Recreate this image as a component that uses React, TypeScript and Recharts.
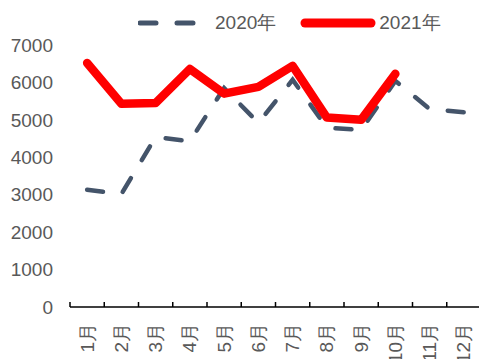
import React from "react";
import { LineChart, Line, XAxis, YAxis, Legend } from "recharts";

const months = ["1月", "2月", "3月", "4月", "5月", "6月", "7月", "8月", "9月", "10月", "11月", "12月"];
const sales2020 = [3130, 3020, 4540, 4430, 5850, 4920, 6070, 4790, 4730, 6040, 5290, 5200];
const sales2021: (number | null)[] = [6520, 5430, 5450, 6360, 5700, 5880, 6440, 5060, 5000, 6230, null, null];
const yTicks = [0, 1000, 2000, 3000, 4000, 5000, 6000, 7000];

const data = months.map((m, i) => ({
  pos: i + 0.5,
  month: m,
  y2020: sales2020[i],
  y2021: sales2021[i],
}));
// tick values: category boundaries (integers) and category centres (halves)
const allTicks: number[] = [];
for (let i = 0; i <= months.length; i++) {
  allTicks.push(i);
  if (i < months.length) allTicks.push(i + 0.5);
}

const FONT = '"Liberation Sans", Arial, sans-serif';
const GREY = "#595959";
const LABEL_GAP = 16;

const MonthTick = (props: any) => {
  const { x, y, payload } = props;
  const v = payload.value as number;
  const axisY = y - LABEL_GAP;
  if (Number.isInteger(v)) {
    return <line x1={x} y1={axisY} x2={x} y2={axisY - 5} stroke="#000" strokeWidth={1.5} />;
  }
  const idx = Math.round(v - 0.5);
  return (
    <text
      x={x}
      y={y}
      transform={`rotate(-90, ${x}, ${y})`}
      textAnchor="end"
      dominantBaseline="central"
      fill={GREY}
      fontSize={19}
      fontFamily={FONT}
    >
      {months[idx]}
    </text>
  );
};

const LegendContent = () => (
  <div
    style={{
      display: "flex",
      alignItems: "center",
      fontFamily: FONT,
      fontSize: 19,
      color: GREY,
      paddingLeft: 138,
    }}
  >
    <svg width={60} height={12} style={{ display: "block" }}>
      <line x1={2} y1={6} x2={58} y2={6} stroke="#44546A" strokeWidth={5} strokeLinecap="round" strokeDasharray="16 21" />
    </svg>
    <span style={{ marginLeft: 17 }}>2020年</span>
    <svg width={76} height={14} style={{ display: "block", marginLeft: 24 }}>
      <line x1={5} y1={7} x2={71} y2={7} stroke="#FF0000" strokeWidth={9} strokeLinecap="round" />
    </svg>
    <span style={{ marginLeft: 3 }}>2021年</span>
  </div>
);

export default function App() {
  return (
    <div style={{ position: "absolute", left: 0, top: 0, width: 479, height: 359, overflow: "hidden", background: "#fff" }}>
      <LineChart width={481} height={359} data={data} margin={{ top: 45, right: 0, bottom: 0, left: 0 }}>
        <Legend
          layout="horizontal"
          verticalAlign="middle"
          align="center"
          content={<LegendContent />}
          wrapperStyle={{ top: 10, left: 0, width: 479 }}
        />
        <XAxis
          dataKey="pos"
          type="number"
          domain={[0, 12]}
          ticks={allTicks}
          interval={0}
          height={52}
          tickSize={0}
          tickMargin={LABEL_GAP}
          axisLine={{ stroke: "#000", strokeWidth: 1.5 }}
          tickLine={false}
          tick={<MonthTick />}
        />
        <YAxis
          type="number"
          domain={[0, 7000]}
          ticks={yTicks}
          width={70}
          axisLine={false}
          tickLine={false}
          tickMargin={11}
          tick={{ fill: GREY, fontSize: 19, fontFamily: FONT }}
        />
        <Line
          type="linear"
          dataKey="y2020"
          name="2020年"
          stroke="#44546A"
          strokeWidth={4.5}
          strokeDasharray="16 21"
          strokeLinecap="round"
          dot={false}
          isAnimationActive={false}
        />
        <Line
          type="linear"
          dataKey="y2021"
          name="2021年"
          stroke="#FF0000"
          strokeWidth={8.5}
          strokeLinecap="round"
          strokeLinejoin="round"
          dot={false}
          isAnimationActive={false}
        />
      </LineChart>
    </div>
  );
}
